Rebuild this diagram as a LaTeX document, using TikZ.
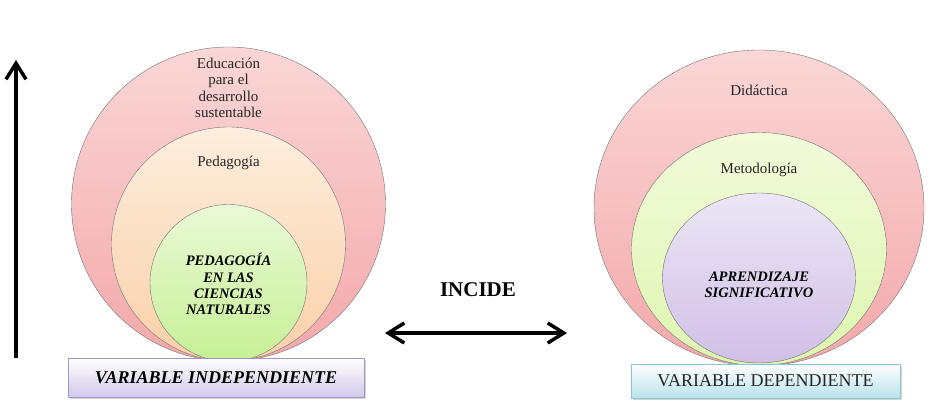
\documentclass[tikz,border=0pt]{standalone}
\usepackage{fontspec}
\setmainfont{Liberation Serif}
\usetikzlibrary{arrows.meta, shapes.geometric, shadows}

\definecolor{pinkTop}{RGB}{250,214,214}
\definecolor{pinkBot}{RGB}{244,168,170}
\definecolor{peachTop}{RGB}{253,238,222}
\definecolor{peachBot}{RGB}{250,208,168}
\definecolor{greenTop}{RGB}{234,249,214}
\definecolor{greenBot}{RGB}{198,240,150}
\definecolor{limeTop}{RGB}{242,250,218}
\definecolor{limeBot}{RGB}{222,246,176}
\definecolor{lilacTop}{RGB}{236,230,246}
\definecolor{lilacBot}{RGB}{208,192,230}
\definecolor{boxLilac}{RGB}{210,200,232}
\definecolor{boxLilacLine}{RGB}{160,150,200}
\definecolor{boxCyan}{RGB}{184,226,236}
\definecolor{boxCyanLine}{RGB}{140,196,214}

\begin{document}
\begin{tikzpicture}[
  x=1pt, y=-1pt,
  every node/.style={align=center, text=black!85},
  ring/.style={circle, draw=black!55, line width=0.4pt, inner sep=0pt},
  oval/.style={ellipse, draw=black!55, line width=0.4pt, inner sep=0pt},
  lbl/.style={font=\fontsize{15}{16.3}\selectfont},
  core/.style={font=\fontsize{14.5}{16.2}\selectfont\bfseries\itshape, text=black},
  varbox/.style={draw, line width=0.7pt, inner sep=0pt,
                 font=\fontsize{18}{20}\selectfont,
                 drop shadow={shadow xshift=2pt, shadow yshift=-2pt, opacity=0.35}},
  arr/.style={line width=3.5pt, {Straight Barb[length=16pt,width=20pt]}-{Straight Barb[length=16pt,width=20pt]}}
]
\useasboundingbox (0,0) rectangle (948,406);

% variable independiente
\node[ring, minimum size=314pt, top color=pinkTop, bottom color=pinkBot] (edu) at (228.5,204) {};
\node[ring, minimum size=234pt, top color=peachTop, bottom color=peachBot] (ped) at (228.5,244) {};
\node[ring, minimum size=157pt, top color=greenTop, bottom color=greenBot] (pcn) at (228.5,283) {};
\node[lbl] (tEdu) at (228.5,88) {Educación\\para el\\desarrollo\\sustentable};
\node[lbl] (tPed) at (228.5,163) {Pedagogía};
\node[core] (tPcn) at (228.5,284) {PEDAGOGÍA\\EN LAS\\CIENCIAS\\NATURALES};
\node[varbox, draw=boxLilacLine, top color=white, bottom color=boxLilac,
      minimum width=296pt, minimum height=39pt,
      font=\fontsize{18}{20}\selectfont\bfseries\itshape, text=black] (vi) at (216,377.5) {VARIABLE INDEPENDIENTE};

% variable dependiente
\node[oval, minimum width=330pt, minimum height=316pt, top color=pinkTop, bottom color=pinkBot] (did) at (759,208) {};
\node[oval, minimum width=255pt, minimum height=233pt, top color=limeTop, bottom color=limeBot] (met) at (759,249) {};
\node[oval, minimum width=193pt, minimum height=170pt, top color=lilacTop, bottom color=lilacBot] (apr) at (759,278) {};
\node[lbl] (tDid) at (759,90) {Didáctica};
\node[lbl] (tMet) at (759,170) {Metodología};
\node[core] (tApr) at (759,285) {APRENDIZAJE\\SIGNIFICATIVO};
\node[varbox, draw=boxCyanLine, top color=white, bottom color=boxCyan,
      minimum width=269pt, minimum height=34pt] (vd) at (765.5,381) {VARIABLE DEPENDIENTE};

% relacion
\node[font=\fontsize{21}{24}\selectfont\bfseries, text=black] (inc) at (478,290) {INCIDE};
\coordinate (incL) at (385,333);
\coordinate (incR) at (567,333);
\draw[arr] (incL) -- (incR);

\coordinate (up0) at (16,358);
\coordinate (up1) at (16,60);
\draw[arr, -{Straight Barb[length=16pt,width=20pt]}] (up0) -- (up1);
\end{tikzpicture}
\end{document}
